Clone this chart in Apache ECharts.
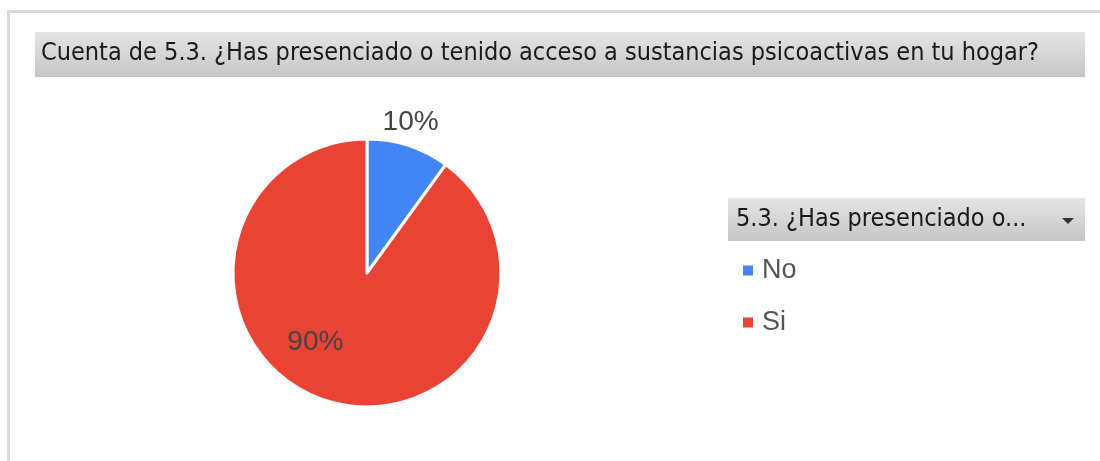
<!DOCTYPE html>
<html>
<head>
<meta charset="utf-8">
<script src="https://cdn.jsdelivr.net/npm/echarts@6/dist/echarts.min.js"></script>
<style>
  html, body { margin: 0; padding: 0; background: #fff; }
  #chart { width: 1100px; height: 461px; }
</style>
</head>
<body>
<div id="chart"></div>
<script>
var titleText = 'Cuenta de 5.3. ¿Has presenciado o tenido acceso a sustancias psicoactivas en tu hogar?';
var legendTitle = '5.3. ¿Has presenciado o...';
var categories = ['No', 'Si'];
var values = [10, 90];
var colors = ['#4285f4', '#ea4335'];
// label nudges so the percentages sit where the sheet puts them
var labelOffsets = [[22, -84], [-30, 3]];

var barFill = new echarts.graphic.LinearGradient(0, 0, 0, 1, [
    { offset: 0, color: '#e4e4e4' },
    { offset: 1, color: '#c6c6c6' }
]);
var headFont = 'DejaVu Sans Condensed, sans-serif';

var data = [];
for (let i = 0; i < categories.length; i++) {
    data.push({
        name: categories[i],
        value: values[i],
        itemStyle: { color: colors[i] },
        label: { offset: labelOffsets[i] }
    });
}

var myChart = echarts.init(document.getElementById('chart'));
var option = {
    animation: false,
    title: {
        text: titleText,
        left: 41,
        top: 41,
        padding: 0,
        textStyle: {
            fontFamily: headFont,
            fontSize: 25,
            fontWeight: 'normal',
            color: '#1a1a1a'
        }
    },
    graphic: [
        // frame of the sheet chart
        {
            type: 'polyline', z: -1,
            shape: { points: [[8.5, 461], [8.5, 11.5], [1100, 11.5]] },
            style: { stroke: '#dadada', lineWidth: 3, fill: null }
        },
        // title bar
        { type: 'rect', z: -1, shape: { x: 35, y: 32, width: 1050, height: 45 }, style: { fill: barFill } },
        // legend header
        { type: 'rect', z: -1, shape: { x: 728, y: 198, width: 357, height: 43 }, style: { fill: barFill } },
        {
            type: 'text', left: 736, top: 207,
            style: {
                text: legendTitle,
                fontFamily: headFont,
                fontSize: 25, fill: '#1a1a1a'
            }
        },
        { type: 'polygon', shape: { points: [[1062, 218], [1074, 218], [1068, 224]] }, style: { fill: '#333' } }
    ],
    legend: {
        orient: 'vertical',
        left: 738,
        top: 252,
        itemWidth: 10,
        itemHeight: 10,
        itemGap: 25,
        icon: 'rect',
        itemStyle: { borderWidth: 0 },
        data: categories,
        textStyle: { fontFamily: 'Liberation Sans, Arial, sans-serif', fontSize: 27, color: '#555', padding: [0, 0, 0, 4] }
    },
    series: [{
        type: 'pie',
        center: [367, 273],
        radius: 134,
        startAngle: 90,
        clockwise: true,
        data: data,
        itemStyle: { borderColor: '#fff', borderWidth: 3 },
        labelLine: { show: false },
        label: {
            position: 'inside',
            formatter: '{d}%',
            fontFamily: 'Liberation Sans, Arial, sans-serif',
            fontSize: 28,
            color: '#444'
        },
        emphasis: { disabled: true }
    }]
};
myChart.setOption(option);
</script>
</body>
</html>
